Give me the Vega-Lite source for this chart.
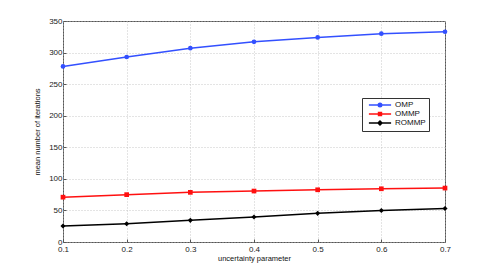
{
  "$schema": "https://vega.github.io/schema/vega-lite/v6.json",
  "autosize": {"type": "none"},
  "padding": {"left": 63, "top": 21, "right": 46, "bottom": 31},
  "width": 382,
  "height": 221,
  "background": "white",
  "config": {
    "font": "Liberation Sans",
    "view": {"stroke": "#555", "strokeWidth": 1},
    "axis": {
      "domain": false,
      "grid": true,
      "gridColor": "#bbb",
      "gridDash": [1, 2],
      "gridWidth": 0.8,
      "tickColor": "#555",
      "tickSize": -3,
      "labelFontSize": 8,
      "labelColor": "#222",
      "labelFlush": false,
      "titleFontSize": 7.5,
      "titleFontWeight": "normal",
      "titleColor": "#111"
    }
  },
  "data": {
    "values": [
      {"u": 0.1, "method": "OMP", "iter": 278},
      {"u": 0.2, "method": "OMP", "iter": 293},
      {"u": 0.3, "method": "OMP", "iter": 307},
      {"u": 0.4, "method": "OMP", "iter": 317},
      {"u": 0.5, "method": "OMP", "iter": 324},
      {"u": 0.6, "method": "OMP", "iter": 330},
      {"u": 0.7, "method": "OMP", "iter": 333},
      {"u": 0.1, "method": "OMMP", "iter": 71},
      {"u": 0.2, "method": "OMMP", "iter": 75},
      {"u": 0.3, "method": "OMMP", "iter": 78.6},
      {"u": 0.4, "method": "OMMP", "iter": 80.7},
      {"u": 0.5, "method": "OMMP", "iter": 82.7},
      {"u": 0.6, "method": "OMMP", "iter": 84.3},
      {"u": 0.7, "method": "OMMP", "iter": 85.4},
      {"u": 0.1, "method": "ROMMP", "iter": 25.3},
      {"u": 0.2, "method": "ROMMP", "iter": 29},
      {"u": 0.3, "method": "ROMMP", "iter": 34.3},
      {"u": 0.4, "method": "ROMMP", "iter": 39.5},
      {"u": 0.5, "method": "ROMMP", "iter": 45.4},
      {"u": 0.6, "method": "ROMMP", "iter": 50},
      {"u": 0.7, "method": "ROMMP", "iter": 53}
    ]
  },
  "encoding": {
    "x": {
      "field": "u", "type": "quantitative",
      "scale": {"domain": [0.1, 0.7], "nice": false, "zero": false},
      "axis": {"values": [0.1, 0.2, 0.3, 0.4, 0.5, 0.6, 0.7], "format": ".1f", "title": "uncertainty parameter", "titlePadding": 1, "labelPadding": 6}
    },
    "y": {
      "field": "iter", "type": "quantitative",
      "scale": {"domain": [0, 350], "nice": false},
      "axis": {"values": [0, 50, 100, 150, 200, 250, 300, 350], "title": "mean number of iterations", "titlePadding": 7, "labelPadding": 4}
    },
    "color": {
      "field": "method", "type": "nominal",
      "scale": {"domain": ["OMP", "OMMP", "ROMMP"], "range": ["#3350ff", "#ff1010", "#000000"]},
      "legend": {
        "title": null,
        "orient": "none",
        "legendX": 299,
        "legendY": 77,
        "padding": 3,
        "strokeColor": "#333",
        "fillColor": "white",
        "labelFontSize": 8,
        "labelColor": "#111",
        "symbolSize": 36,
        "symbolStrokeWidth": 1.4,
        "symbolOffset": 11,
        "labelOffset": 11,
        "rowPadding": -4
      }
    }
  },
  "layer": [
    {
      "mark": {"type": "line", "strokeWidth": 1.5}
    },
    {
      "transform": [{"filter": "datum.method === 'OMP'"}],
      "mark": {"type": "point", "filled": true, "opacity": 1, "size": 22, "shape": "circle"}
    },
    {
      "transform": [{"filter": "datum.method === 'OMMP'"}],
      "mark": {"type": "point", "filled": true, "opacity": 1, "size": 22, "shape": "square"}
    },
    {
      "transform": [{"filter": "datum.method === 'ROMMP'"}],
      "mark": {"type": "point", "filled": true, "opacity": 1, "size": 26, "shape": "diamond"}
    },
    {
      "mark": {"type": "point", "filled": false, "opacity": 0, "size": 36, "strokeWidth": 1.4},
      "encoding": {
        "shape": {
          "field": "method", "type": "nominal",
          "scale": {
            "domain": ["OMP", "OMMP", "ROMMP"],
            "range": [
              "M-3.7,0H3.7M-0.6,0A0.6,0.6 0 1,0 0.6,0A0.6,0.6 0 1,0 -0.6,0Z",
              "M-3.7,0H3.7M-0.5,-0.5H0.5V0.5H-0.5Z",
              "M-3.7,0H3.7M0,-0.7L0.7,0L0,0.7L-0.7,0Z"
            ]
          },
          "legend": {
            "title": null,
            "orient": "none",
            "legendX": 299,
            "legendY": 77,
            "padding": 3,
            "strokeColor": "#333",
            "fillColor": "white",
            "labelFontSize": 8,
            "labelColor": "#111",
            "symbolSize": 36,
            "symbolStrokeWidth": 1.4,
            "symbolOffset": 11,
            "labelOffset": 11,
            "rowPadding": -4
          }
        }
      }
    }
  ]
}
